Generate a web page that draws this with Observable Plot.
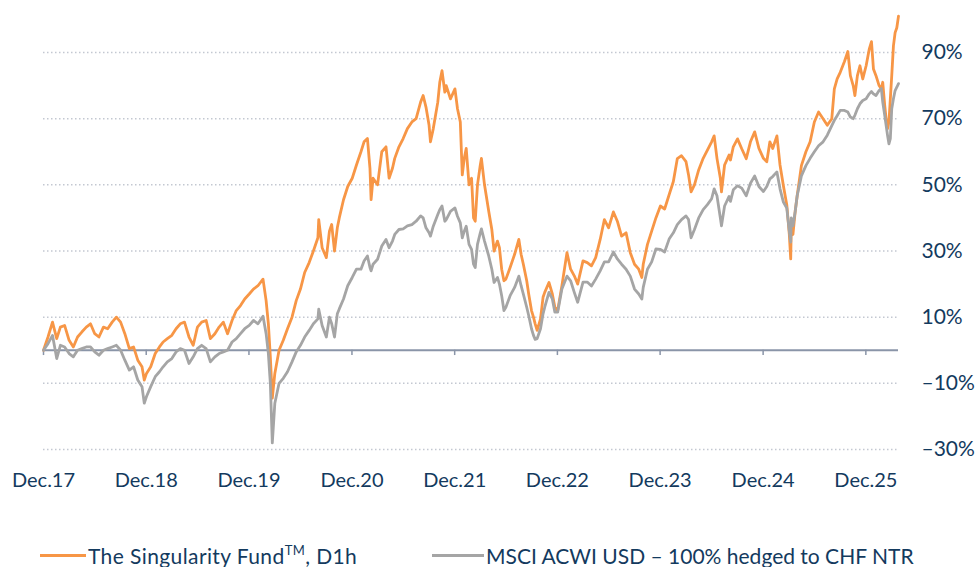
<!DOCTYPE html>
<html>
<head>
<meta charset="utf-8">
<script src="https://cdn.jsdelivr.net/npm/d3@7"></script>
<script src="https://cdn.jsdelivr.net/npm/@observablehq/plot@0.6"></script>
<style>
  html, body { margin: 0; padding: 0; background: #fff; }
  #wrap { position: relative; width: 977px; height: 567px; overflow: hidden; }
  #chart svg { display: block; }
  .item { position: absolute; top: 541px; height: 28px; display: flex; align-items: center;
          font-family: Lato, "Liberation Sans", sans-serif; font-size: 21px; color: #133a5e; white-space: nowrap; }
  .sw { display: inline-block; height: 3px; margin-right: 2px; }
  sup { font-size: 13px; position: relative; top: -1px; }
</style>
</head>
<body>
<div id="wrap">
  <div id="chart"></div>
  <div class="item" style="left:40px"><span class="sw" style="width:46px;background:#f79646"></span><span style="letter-spacing:0.4px">The Singularity Fund<sup>TM</sup>, D1h</span></div>
  <div class="item" style="left:432px"><span class="sw" style="width:52px;background:#a5a5a5"></span><span>MSCI ACWI USD – 100% hedged to CHF NTR</span></div>
</div>
<script>
const dates = [
  // 2018
  "2017-12-31","2018-01-16","2018-02-01","2018-02-16","2018-03-01","2018-03-16","2018-04-01","2018-04-16","2018-05-01","2018-05-16",
  "2018-06-01","2018-06-16","2018-07-01","2018-07-16","2018-08-01","2018-08-16","2018-09-01","2018-09-16","2018-10-01","2018-10-16",
  "2018-11-01","2018-11-16","2018-12-01","2018-12-16","2018-12-24",
  // 2019
  "2019-01-01","2019-01-16","2019-02-01","2019-02-16","2019-03-01","2019-03-16","2019-04-01","2019-04-16","2019-05-01","2019-05-16",
  "2019-06-01","2019-06-16","2019-07-01","2019-07-16","2019-08-01","2019-08-16","2019-09-01","2019-09-16","2019-10-01","2019-10-16",
  "2019-11-01","2019-11-16","2019-12-01","2019-12-16",
  // 2020
  "2020-01-01","2020-01-16","2020-02-01","2020-02-19","2020-03-01","2020-03-09","2020-03-16","2020-03-23","2020-04-01","2020-04-16",
  "2020-05-01","2020-05-16","2020-06-01","2020-06-16","2020-07-01","2020-07-16","2020-08-01","2020-08-16","2020-09-01","2020-09-04",
  "2020-09-16","2020-10-01","2020-10-12","2020-10-20","2020-10-30","2020-11-09","2020-11-16","2020-12-01","2020-12-16",
  // 2021
  "2021-01-01","2021-01-16","2021-02-01","2021-02-12","2021-02-24","2021-03-05","2021-03-09","2021-03-16","2021-04-01","2021-04-16",
  "2021-05-01","2021-05-12","2021-05-24","2021-06-01","2021-06-16","2021-07-01","2021-07-16","2021-08-01","2021-08-16","2021-09-01",
  "2021-09-10","2021-09-20","2021-10-01","2021-10-06","2021-10-16","2021-11-01","2021-11-08","2021-11-16","2021-11-26","2021-12-01",
  "2021-12-16",
  // 2022
  "2022-01-01","2022-01-10","2022-01-20","2022-01-27","2022-02-03","2022-02-10","2022-02-20","2022-03-01","2022-03-08","2022-03-14",
  "2022-03-22","2022-04-01","2022-04-05","2022-04-16","2022-05-01","2022-05-12","2022-05-20","2022-06-01","2022-06-08","2022-06-16",
  "2022-06-24","2022-07-01","2022-07-16","2022-08-01","2022-08-16","2022-08-24","2022-09-01","2022-09-13","2022-09-20","2022-09-30",
  "2022-10-07","2022-10-13","2022-10-20","2022-11-01","2022-11-10","2022-11-16","2022-12-01","2022-12-13","2022-12-22",
  // 2023
  "2023-01-01","2023-01-16","2023-02-03","2023-02-16","2023-03-01","2023-03-13","2023-04-01","2023-04-16","2023-05-01","2023-05-16",
  "2023-06-01","2023-06-16","2023-07-01","2023-07-18","2023-08-01","2023-08-16","2023-09-01","2023-09-16","2023-10-01","2023-10-16",
  "2023-10-27","2023-11-01","2023-11-16","2023-12-01","2023-12-16",
  // 2024
  "2024-01-01","2024-01-16","2024-02-01","2024-02-16","2024-03-01","2024-03-16","2024-04-01","2024-04-10","2024-04-19","2024-05-01",
  "2024-05-16","2024-06-01","2024-06-16","2024-07-01","2024-07-10","2024-07-20","2024-08-01","2024-08-05","2024-08-16","2024-09-01",
  "2024-09-06","2024-09-16","2024-10-01","2024-10-16","2024-11-01","2024-11-16","2024-12-01","2024-12-16",
  // 2025
  "2025-01-01","2025-01-13","2025-01-24","2025-02-03","2025-02-18","2025-03-01","2025-03-13","2025-03-25","2025-04-03","2025-04-08",
  "2025-04-10","2025-04-16","2025-04-24","2025-05-01","2025-05-16","2025-06-01","2025-06-16","2025-07-01","2025-07-16","2025-08-01",
  "2025-08-16","2025-09-01","2025-09-10","2025-09-20","2025-10-01","2025-10-16","2025-10-28","2025-11-06","2025-11-16","2025-11-22",
  "2025-12-01","2025-12-10","2025-12-20",
  // 2026
  "2026-01-01","2026-01-12","2026-01-20","2026-01-27","2026-02-05","2026-02-16","2026-02-24","2026-03-01","2026-03-08","2026-03-13",
  "2026-03-18","2026-03-23","2026-03-28","2026-04-02","2026-04-08","2026-04-14","2026-04-20","2026-04-26"
];

// The Singularity Fund, D1h (cumulative %)
const fund = [
  0,4,8.5,3.5,7, 7.5,3,1,4,5.5, 7,8,5,4,7, 6.5,8.5,10,8.5,5, 0.5,1,-3,-5,-9,
  -7,-5,-1,1,2.5, 3.5,4.5,6.5,8,8.5, 4,1.5,7,8.5,9, 3.5,5,7,8.5,5, 9,12,13.5,15.5,
  17,18.5,19.5,21.5,15, 8,-2,-14.5,-7,0, 3,6.5,10,15,18.5, 23.5,26.5,30,34,39.5, 31,28,36,38,30, 37,40,45.5,49.5,
  52,56,60,63,64, 55,45.5,52,50,60, 61.5,52,55,58,61.5, 64,67,69,70,75, 77,73.5,68,63,67, 75,81,84.5,78,80, 76,
  79,73,69,53,58, 61,50,52,40,39, 50,56,58,50,42, 36.5,30,33,31,24.5, 21,21.5,25,29,33.5, 29,26,21,17,12, 10,8,6,9.5,16, 17.5,20.5,17,13,
  12,19.5,29.5,24.5,22.5, 20,27,26.5,25.5,28, 33.5,39.5,37,41.8,39, 34.5,35.5,29.5,26,24.5, 22,26,32,36,40,
  43.6,42.7,47,51,57.9, 58.8,57,53,47.9,50, 54.5,58,60.5,63,64.8, 58,52,47.9,56,59, 57.5,61.5,63.9,60.9,57.9, 63,66,61,
  58,57,63,61,64.8, 56,49.7,44,35,27.6, 37,35,42,46.7,55.8, 60,63,69,72,70, 68,70,79,82,84, 87.3,90.3,83,80,77, 83,86,82,
  86,91,93.3,85,83, 80,79,81,74,70, 67,69,76,83,92, 96,97.5,101
];

// MSCI ACWI USD – 100% hedged to CHF NTR (cumulative %)
const msci = [
  0,2,4.5,-2.5,1.5, 1,-1,-2,0,0.5, 1,1,-0.5,-1.5,0, 0.5,1,1.5,0,-3, -6,-5,-9,-11,-16,
  -14,-11,-8,-6.5,-5, -3.5,-2.5,-0.5,0.5,0, -4,-2,0.5,1.5,0.5, -3.5,-2,-1,-0.5,0, 2.5,3.5,5,6.5,
  7.5,9,8,10.3,5, -1,-10,-28,-16,-10, -8.5,-6.5,-3.5,-0.5,1.5, 4,6,8,9.5,12.4, 7.5,4,10,8,4, 11,12.5,15.5,19.5,
  22,24.5,24.5,27,28.5, 25,24,26,27.5,31.5, 33.5,31,33,35,36.5, 36.7,37.6,38,39,40.6, 40,37,35.5,34.5,37.5, 41,42.5,43.6,39,39.5, 42,
  43,40.5,38.5,34,36, 37.5,32,30.5,26,25, 32,35.5,36.7,33,28.5, 24.5,20.5,22,20,16.5, 12,13,16.5,19,22.4, 19.5,17,13,10.5,6.5, 4.5,3.3,3.5,6.5,11, 13,17.5,15.5,11.5,
  11.5,18.5,22.4,21,17.5, 14.5,20.6,20.6,19.4,21.5, 24,26.7,26.7,29.7,27.6, 26,24.5,22.4,18.5,17, 15.5,19,24.5,26.7,30.6,
  30.5,29.7,33.6,35.5,38, 39.5,40.6,39.5,34,36.5, 40,42.5,44,45.8,48.8, 46.7,40,37.6,43.6,46.5, 45,48.5,49.7,49,46.7, 50.5,52.7,49.5,
  48,49.5,51.8,52.5,53.9, 48.8,44.8,43,36,32.7, 40,37.6,42,46.7,52.7, 55.8,58,60,61.8,63, 65,67.9,69.5,70.9,72.5, 72.5,72,70.5,70,71, 73,74.5,75.5,
  76,77.5,78.2,77.5,77, 78.5,79.1,75,71,68, 65,62.4,64,73,76, 78.5,79.5,80.6
];

const yTicks = [-30, -10, 10, 30, 50, 70, 90];
const xTickDates = ["2017-12-31","2018-12-31","2019-12-31","2020-12-31","2021-12-31","2022-12-31","2023-12-31","2024-12-31","2025-12-31"];
const xTickLabels = ["Dec.17","Dec.18","Dec.19","Dec.20","Dec.21","Dec.22","Dec.23","Dec.24","Dec.25"];

if (dates.length !== fund.length || dates.length !== msci.length) {
  console.error("length mismatch", dates.length, fund.length, msci.length);
}

const rows = dates.map((d, i) => ({date: new Date(d), fund: fund[i], msci: msci[i]}));
const ticks = xTickDates.map((d, i) => ({date: new Date(d), label: xTickLabels[i]}));
const labelOf = new Map(ticks.map(t => [+t.date, t.label]));

const chart = Plot.plot({
  width: 977,
  height: 500,
  marginTop: 52,
  marginBottom: 51,
  marginLeft: 43,
  marginRight: 79,
  style: {fontFamily: "Lato, 'Liberation Sans', sans-serif", fontSize: "20px", color: "#133a5e", background: "white", overflow: "visible"},
  x: {type: "utc", domain: [new Date(dates[0]), new Date(dates[dates.length - 1])]},
  y: {domain: [-30, 90]},
  marks: [
    Plot.ruleY(yTicks, {stroke: "#c3c8d1", strokeWidth: 1.5, strokeDasharray: "1.5,2.5"}),
    Plot.ruleY([0], {stroke: "#8a95a8", strokeWidth: 2}),
    Plot.ruleX(ticks, {x: "date", y1: 0, y2: -1.6, stroke: "#8a95a8", strokeWidth: 1.5}),
    Plot.lineY(rows, {x: "date", y: "fund", stroke: "#f79646", strokeWidth: 2.8}),
    Plot.lineY(rows, {x: "date", y: "msci", stroke: "#a5a5a5", strokeWidth: 2.8}),
    Plot.axisY({anchor: "right", ticks: yTicks, tickSize: 0, tickPadding: 23, fontSize: 21,
      tickFormat: d => (d < 0 ? "–" : "") + Math.abs(d) + "%"}),
    Plot.axisX({ticks: ticks.map(t => t.date), tickSize: 0, tickPadding: 23, fontSize: 20,
      tickFormat: d => labelOf.get(+d)})
  ]
});
document.getElementById("chart").appendChild(chart);
</script>
</body>
</html>
